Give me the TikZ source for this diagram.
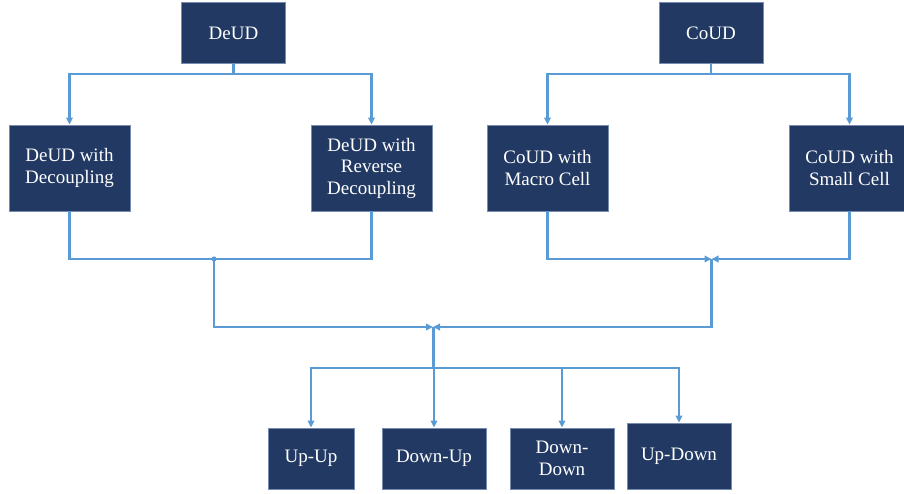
\documentclass[tikz,border=0pt]{standalone}
\usepackage{fontspec}
\setmainfont{Liberation Serif}
\usetikzlibrary{arrows.meta}
\definecolor{navy}{RGB}{34,58,99}
\definecolor{edge}{RGB}{120,140,175}
\definecolor{wire}{RGB}{91,155,213}
\begin{document}
\begin{tikzpicture}[x=1pt,y=-1pt,>={Triangle[length=7pt,width=6.5pt]},
        box/.style={rectangle,draw=edge,line width=0.8pt,fill=navy,text=white,align=center,
            font=\fontsize{19}{21.5}\selectfont,inner sep=0pt},
        big/.style={box,minimum width=121pt,minimum height=86pt},
        small/.style={box,minimum width=104pt,minimum height=61pt}]
        \useasboundingbox (0,0) rectangle (904,494);

        \node[small] at (233.5, 33) (deud) {DeUD};
        \node[small] at (711, 33)   (coud) {CoUD};

        \node[big] at (69.5, 168)  (dec)   {DeUD with\\Decoupling};
        \node[big] at (371.5, 168) (rev)   {DeUD with\\Reverse\\Decoupling};
        \node[big] at (547.5, 168) (macro) {CoUD with\\Macro Cell};
        \node[big] at (849.5, 168) (cell)  {CoUD with\\Small Cell};

        \node[small,minimum width=86pt] at (311, 458.5) (uu) {Up-Up};
        \node[small] at (434, 458.5) (du) {Down-Up};
        \node[small] at (562, 458.5) (dd) {Down-\\Down};
        \node[small,minimum height=66pt] at (679, 456) (ud) {Up-Down};

        \coordinate (j1) at (214, 259);
        \coordinate (j2) at (711.5, 259);
        \coordinate (j3) at (433, 327);
        \coordinate (j4) at (433, 368);

        \begin{scope}[wire,line width=2.2pt]
        \draw[->] (deud.south) -- ++(0,10) -| (dec.north);
        \draw[->] (deud.south) -- ++(0,10) -| (rev.north);
        \draw[->] (coud.south) -- ++(0,10) -| (macro.north);
        \draw[->] (coud.south) -- ++(0,10) -| (cell.north);

        \draw (dec.south) |- (j1);
        \draw (rev.south) |- (j1);
        \fill (j1) circle (2.6pt);
        \draw[->] (macro.south) |- (j2);
        \draw[->] (cell.south) |- (j2);

        \draw[->] (j1) |- (j3);
        \draw[->] (j2) |- (j3);
        \draw[line width=3pt] (j3) -- (j4);

        \draw[->] (j4) -| (uu.north);
        \draw[->] (j4) -| (du.north);
        \draw[->] (j4) -| (dd.north);
        \draw[->] (j4) -| (ud.north);
        \end{scope}
    \end{tikzpicture}
\end{document}
